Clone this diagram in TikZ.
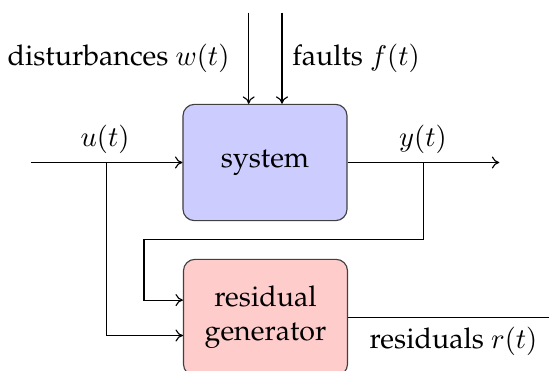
\documentclass[tikz,border=0pt]{standalone}
\usepackage[T1]{fontenc}
\usepackage{palatino}
\usetikzlibrary{arrows.meta}
\begin{document}
\begin{tikzpicture}[x=0.35pt, y=-0.35pt, line width=0.4pt, >={To[length=2.6pt,width=4.2pt]},
  block/.style={draw=black!75, rounded corners=4pt, align=center, inner sep=0pt,
                minimum width=57.4pt, minimum height=40.7pt},
  lbl/.style={inner sep=0pt}]
\useasboundingbox (0,0) rectangle (549,371);

% blocks
\node[block, fill=blue!20] (sys) at (265,162.5) {system};
\node[block, fill=red!20] (res) at (265.5,317.5) {residual\\generator};

% fixed points of the signal lines
\coordinate (uin)  at (31,162.5);
\coordinate (yout) at (499.3,162.5);
\coordinate (ubr)  at (106.7,162.5);
\coordinate (ybr)  at (423.5,162.5);
\coordinate (fb)   at (144,239.3);
\coordinate (wtop) at (248.7,12.7);
\coordinate (ftop) at (282,12.7);
\coordinate (rend) at (560,317.5);

% signal lines
\draw[->] (uin) -- (sys.west);
\draw[->] (sys.east) -- (yout);
\draw[->] (wtop) -- (wtop |- sys.north);
\draw[->] (ftop) -- (ftop |- sys.north);
\draw[->] (ubr) |- ([yshift=-6.3pt]res.west);
\draw[->] (ybr) |- (fb) |- ([yshift=6.1pt]res.west);
\draw (res.east) -- (rend);

% labels
\node[lbl, anchor=base east] (lw) at (230,65) {disturbances $w(t)$};
\node[lbl, anchor=base west] (lf) at (291.7,65) {faults $f(t)$};
\node[lbl, anchor=base] (lu) at (105,146.5) {$u(t)$};
\node[lbl, anchor=base] (ly) at (423,146.5) {$y(t)$};
\node[lbl, anchor=base] (lr) at (453.5,348.3) {residuals $r(t)$};
\end{tikzpicture}
\end{document}
